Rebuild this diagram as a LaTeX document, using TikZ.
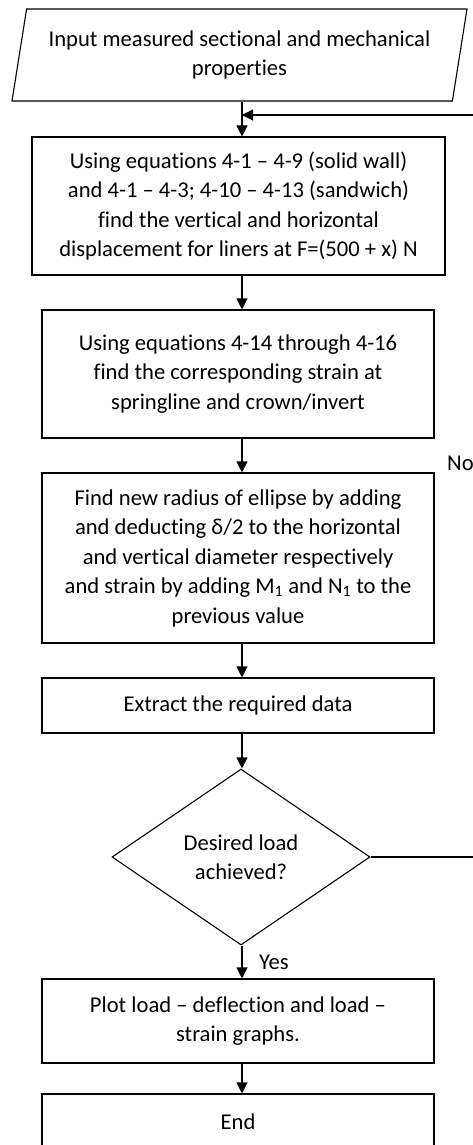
\documentclass[tikz,border=0pt]{standalone}
\usepackage{fontspec}
\setmainfont{Carlito}[Ligatures={NoCommon}]
\usetikzlibrary{shapes.geometric,arrows.meta}
\newcommand\diafont{\fontsize{22.6pt}{29.5pt}\selectfont}
\tikzset{
  box/.style={draw=black, line width=1.1pt, align=center, font=\diafont, inner sep=0pt},
  arr/.style={line width=1.1pt, -{Triangle[length=11pt,width=11pt]}},
  lbl/.style={font=\diafont, inner sep=0pt, anchor=west},
}
\begin{document}
\begin{tikzpicture}[x=1pt,y=-1pt]
\useasboundingbox (0,0) rectangle (473,1145);
\clip (0,0) rectangle (473,1145);
\coordinate (sp) at (242,0);
\coordinate (fb) at (485,0);
\node[box, shape=trapezium, trapezium left angle=75, trapezium right angle=105,
      trapezium stretches=true, minimum width=457pt, minimum height=92pt] (in) at (239.5,55)
  {Input measured sectional and mechanical\\properties};
\node[box, minimum width=413pt, minimum height=138pt] (b2) at (238.5,206)
  {Using equations 4-1 – 4-9 (solid wall)\\and 4-1 – 4-3; 4-10 – 4-13 (sandwich)\\find the vertical and horizontal\\displacement for liners at F=(500 + x) N};
\node[box, minimum width=392pt, minimum height=128pt] (b3) at (238,374)
  {Using equations 4-14 through 4-16\\find the corresponding strain at\\springline and crown/invert};
\node[box, minimum width=392pt, minimum height=170pt] (b4) at (238,558)
  {Find new radius of ellipse by adding\\and deducting δ/2 to the horizontal\\and vertical diameter respectively\\and strain by adding M\textsubscript{1} and N\textsubscript{1} to the\\previous value};
\node[box, minimum width=392pt, minimum height=55pt] (b5) at (238,705.5)
  {Extract the required data};
\node[box, shape=diamond, minimum width=258pt, minimum height=176pt] (d) at (241,857)
  {Desired load\\achieved?};
\node[box, minimum width=392pt, minimum height=84pt] (b6) at (238,1021)
  {Plot load – deflection and load –\\strain graphs.};
\node[box, minimum width=392pt, minimum height=56pt] (b7) at (238,1122)
  {End};
\node[lbl] (no) at (447,463) {No};
\node[lbl] (yes) at (259,962) {Yes};
\coordinate (j) at (242,115);
\draw[arr] (in.south -| sp) -- (b2.north -| sp);
\draw[arr] (b2.south -| sp) -- (b3.north -| sp);
\draw[arr] (b3.south -| sp) -- (b4.north -| sp);
\draw[arr] (b4.south -| sp) -- (b5.north -| sp);
\draw[arr] (b5.south -| sp) -- (d.north -| sp);
\draw[arr] (d.south -| sp) -- (b6.north -| sp);
\draw[arr] (b6.south -| sp) -- (b7.north -| sp);
\draw[arr] (d.east) -- (d.east -| fb) -- (j -| fb) -- (j);
\end{tikzpicture}
\end{document}
